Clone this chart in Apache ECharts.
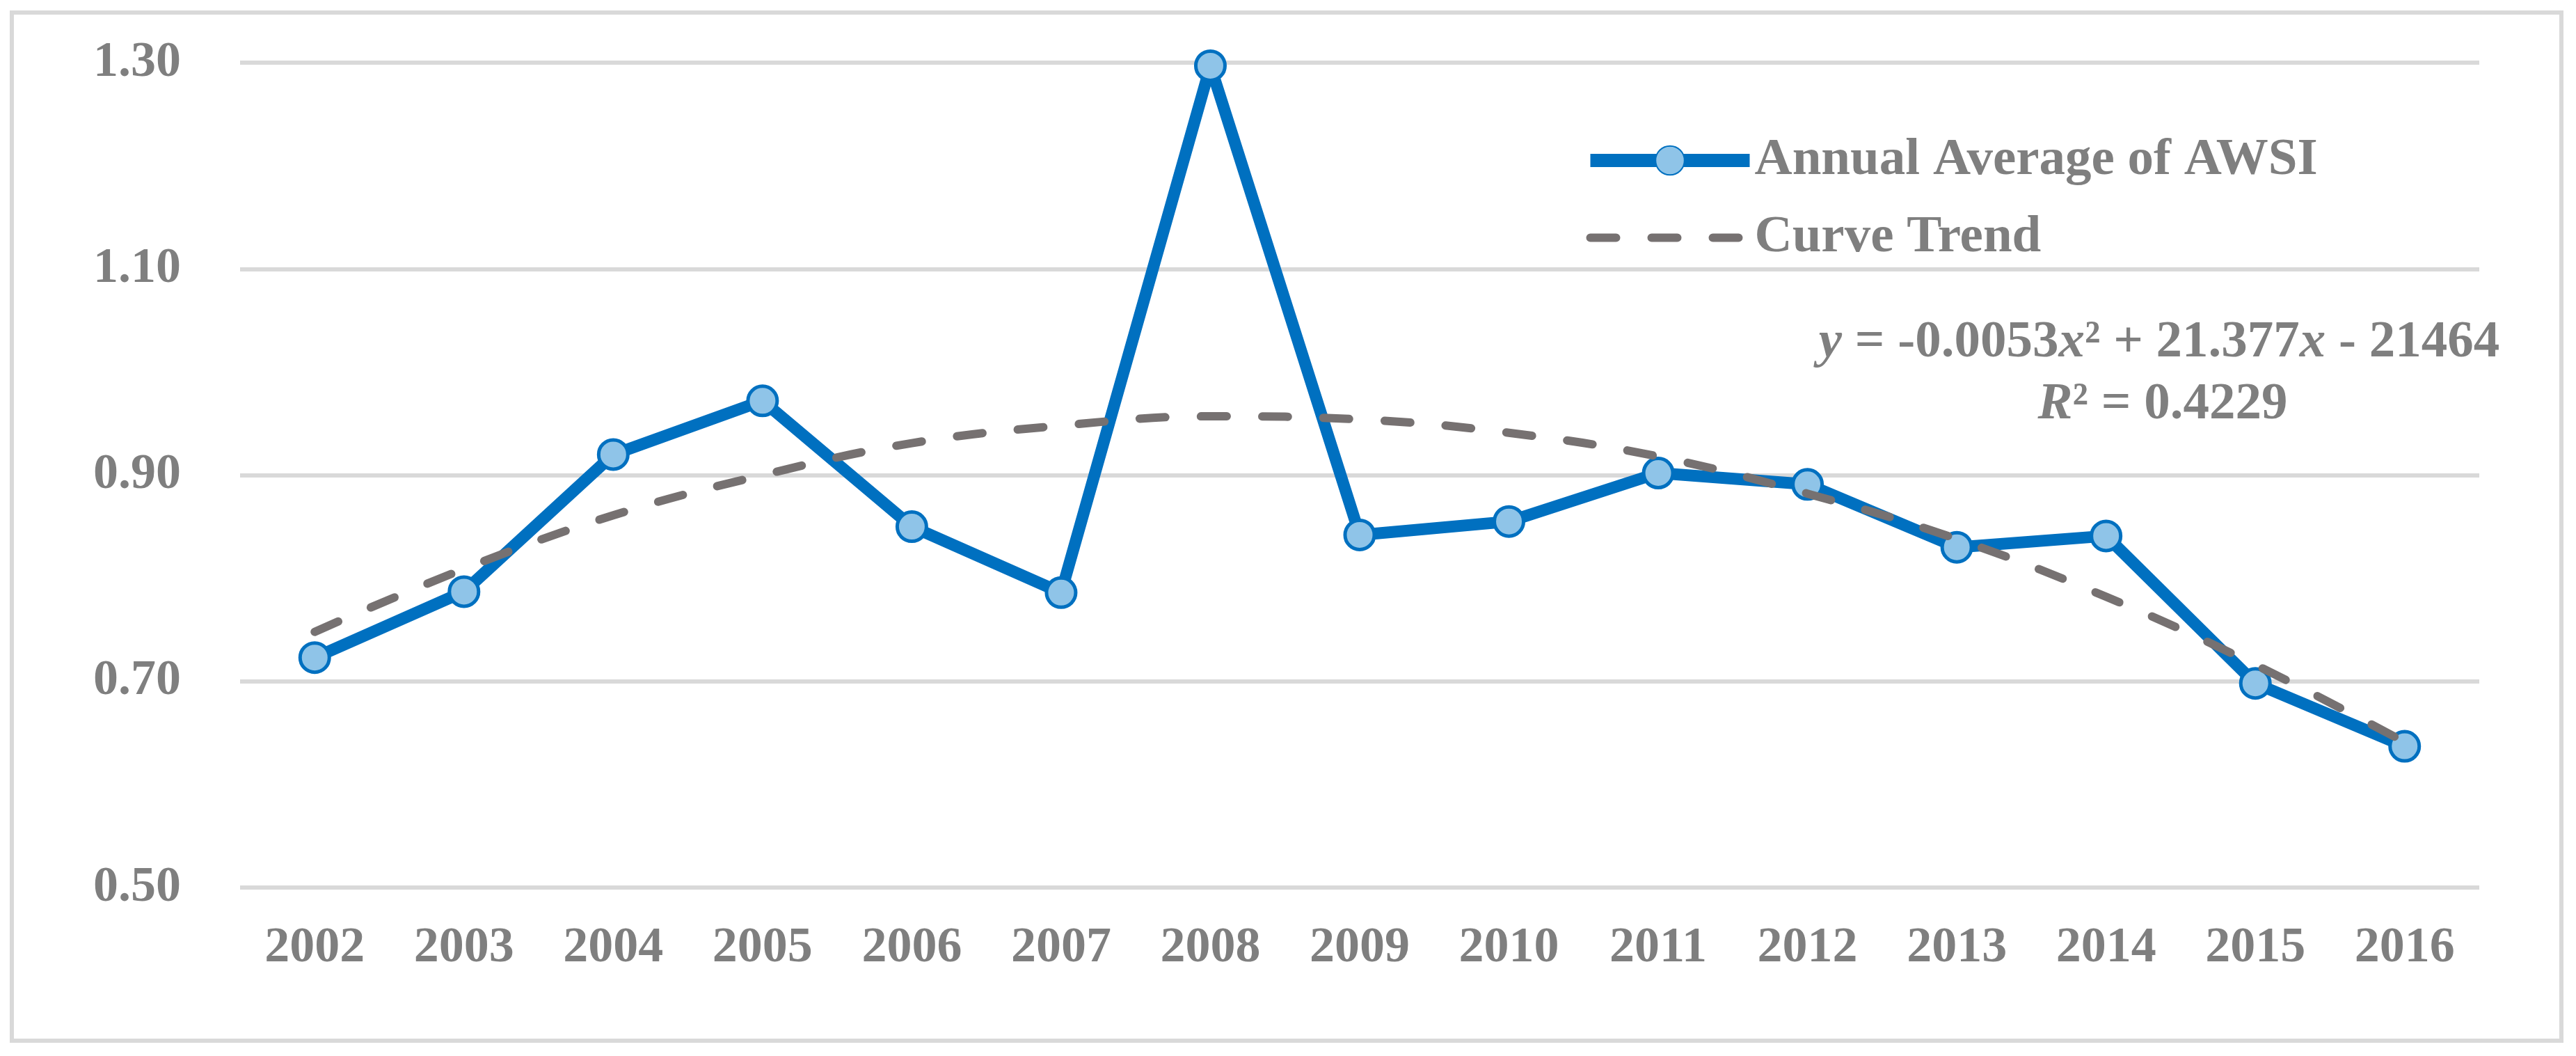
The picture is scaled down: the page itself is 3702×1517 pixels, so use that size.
<!DOCTYPE html>
<html>
<head>
<meta charset="utf-8">
<script src="https://cdn.jsdelivr.net/npm/echarts@6/dist/echarts.min.js"></script>
<style>
html,body{margin:0;padding:0;background:#ffffff;}
#chart{width:3702px;height:1517px;}
</style>
</head>
<body>
<div id="chart"></div>
<script>
// ---- data ----
const years = ['2002','2003','2004','2005','2006','2007','2008','2009','2010','2011','2012','2013','2014','2015','2016'];
const awsiValues = [0.723, 0.787, 0.920, 0.972, 0.850, 0.786, 1.297, 0.842, 0.855, 0.902, 0.891, 0.830, 0.841, 0.698, 0.637];
const trendValues = [0.748, 0.809, 0.861, 0.900, 0.931, 0.948, 0.957, 0.954, 0.941, 0.918, 0.882, 0.838, 0.782, 0.716, 0.641];
const yTickLabels = ['0.50', '0.70', '0.90', '1.10', '1.30'];
const seriesNames = ['Annual Average of AWSI', 'Curve Trend'];
const equationParts = ['y', ' = -0.0053', 'x', '² + 21.377', 'x', ' - 21464'];
const r2Parts = ['R', '² = 0.4229'];

// ---- styling ----
const FONT = "'Liberation Serif', 'Times New Roman', serif";
const TEXT_GRAY = '#7F7F7F';
const BLUE = '#0070C0';
const LIGHT_BLUE = '#8FC4E8';
const TREND_GRAY = '#767171';
const GRID_GRAY = '#D9D9D9';

const yMin = parseFloat(yTickLabels[0]);
const yMax = parseFloat(yTickLabels[yTickLabels.length - 1]);
const yInterval = parseFloat(yTickLabels[1]) - parseFloat(yTickLabels[0]);

function richLine(parts) {
  return parts.map((p, i) => (i % 2 === 0 ? '{i|' + p + '}' : '{n|' + p + '}')).join('');
}
const richStyles = {
  i: { fontFamily: FONT, fontSize: 75, fontWeight: 'bold', fontStyle: 'italic', color: TEXT_GRAY },
  n: { fontFamily: FONT, fontSize: 75, fontWeight: 'bold', fontStyle: 'normal', color: TEXT_GRAY }
};

const trendLineStyle = { color: TREND_GRAY, width: 12, type: [37, 51], cap: 'round' };

const chart = echarts.init(document.getElementById('chart'), null, { renderer: 'canvas' });

chart.setOption({
  backgroundColor: '#ffffff',
  animation: false,
  grid: { left: 345, right: 139, top: 90, bottom: 242, containLabel: false },
  legend: {
    orient: 'vertical',
    left: 2276,
    top: 193,
    padding: 0,
    itemWidth: 229,
    itemHeight: 52,
    itemGap: 36,
    selectedMode: false,
    textStyle: { fontFamily: FONT, fontSize: 75, fontWeight: 'bold', color: TEXT_GRAY, lineHeight: 75, padding: [0, 0, 0, 2] },
    data: [
      { name: seriesNames[0], lineStyle: { width: 19, color: BLUE } },
      { name: seriesNames[1], itemStyle: { opacity: 0 }, lineStyle: trendLineStyle }
    ]
  },
  xAxis: {
    type: 'category',
    data: years,
    boundaryGap: true,
    axisLine: { show: false },
    axisTick: { show: false },
    axisLabel: { fontFamily: FONT, fontSize: 72, fontWeight: 'bold', color: TEXT_GRAY, margin: 51, lineHeight: 72, interval: 0 },
    splitLine: { show: false }
  },
  yAxis: {
    type: 'value',
    min: yMin,
    max: yMax,
    interval: yInterval,
    axisLine: { show: false },
    axisTick: { show: false },
    axisLabel: {
      fontFamily: FONT, fontSize: 72, fontWeight: 'bold', color: TEXT_GRAY, margin: 85,
      formatter: v => v.toFixed(2)
    },
    splitLine: { show: true, lineStyle: { color: GRID_GRAY, width: 6 } }
  },
  series: [
    {
      name: seriesNames[0],
      type: 'line',
      data: awsiValues,
      z: 2,
      symbol: 'circle',
      symbolSize: 42,
      showSymbol: true,
      lineStyle: { color: BLUE, width: 17, join: 'round' },
      itemStyle: { color: LIGHT_BLUE, borderColor: BLUE, borderWidth: 5 }
    },
    {
      name: seriesNames[1],
      type: 'line',
      data: trendValues,
      z: 5,
      smooth: 0.4,
      symbol: 'none',
      lineStyle: trendLineStyle,
      itemStyle: { color: TREND_GRAY }
    }
  ],
  graphic: [
    {
      type: 'rect',
      shape: { x: 17, y: 18, width: 3664, height: 1477 },
      style: { fill: 'none', stroke: GRID_GRAY, lineWidth: 6 },
      silent: true
    },
    {
      type: 'text',
      x: 3103,
      y: 493,
      style: { text: richLine(equationParts), rich: richStyles, align: 'center', verticalAlign: 'middle',
               fontFamily: FONT, fontSize: 75, fontWeight: 'bold', fill: TEXT_GRAY }
    },
    {
      type: 'text',
      x: 3108,
      y: 582,
      style: { text: richLine(r2Parts), rich: richStyles, align: 'center', verticalAlign: 'middle',
               fontFamily: FONT, fontSize: 75, fontWeight: 'bold', fill: TEXT_GRAY }
    }
  ]
});
</script>
</body>
</html>
